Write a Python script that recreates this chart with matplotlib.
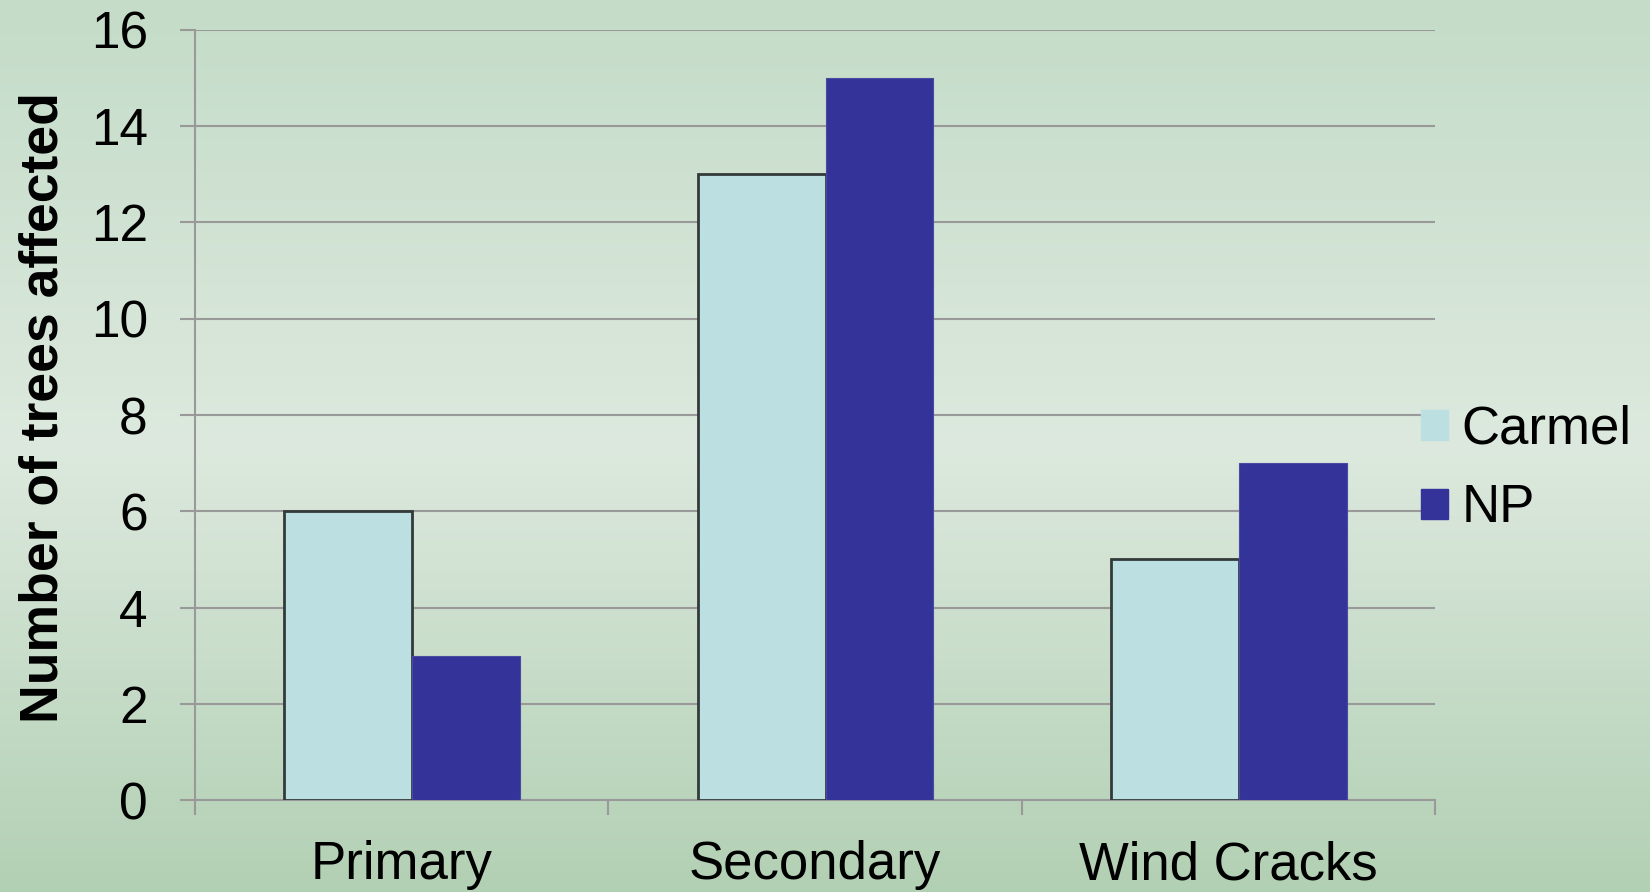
import numpy as np
import matplotlib
matplotlib.use("Agg")
import matplotlib.pyplot as plt
import matplotlib.patches as mpatches
from matplotlib.colors import LinearSegmentedColormap

plt.rcParams['font.family'] = ['Liberation Sans', 'DejaVu Sans']

categories = ['Primary', 'Secondary', 'Wind Cracks']
carmel = [6, 13, 5]
np_vals = [3, 15, 7]
y_ticks = [0, 2, 4, 6, 8, 10, 12, 14, 16]

fig = plt.figure(figsize=(16.5, 8.92), dpi=100)

# vertical background gradient
bg = fig.add_axes([0, 0, 1, 1], zorder=-1)
grad = LinearSegmentedColormap.from_list(
    'bg', ['#b2d0b4', '#dde9de', '#c4dcc8'])
bg.imshow(np.linspace(0, 1, 256).reshape(-1, 1), aspect='auto', cmap=grad,
          origin='lower', extent=[0, 1, 0, 1])
bg.axis('off')

ax = fig.add_axes([0.1182, 0.1031, 0.7515, 0.8633])
ax.patch.set_alpha(0)

x = np.arange(len(categories))
ax.bar(x - 0.284, carmel, width=0.31, align='edge', color='#bce0e2',
       edgecolor='#333a3a', linewidth=2, zorder=3)
ax.bar(x + 0.026, np_vals, width=0.26, align='edge', color='#333399',
       edgecolor='#4a4aa0', linewidth=0.8, zorder=3)

ax.set_xlim(-0.5, 2.5)
ax.set_ylim(0, 16)
ax.set_yticks(y_ticks)
ax.set_yticklabels([str(v) for v in y_ticks])
ax.set_xticks(x)
ax.set_xticklabels(categories)
ax.set_xticks([-0.5, 0.5, 1.5, 2.5], minor=True)
ax.tick_params(axis='x', which='major', length=0, pad=29, labelsize=38)
ax.tick_params(axis='x', which='minor', length=11, width=1.5, color='#999999')
ax.tick_params(axis='y', length=11, width=1.5, color='#999999', pad=23,
               labelsize=37)

ax.grid(axis='y', color='#999999', linewidth=1.5, zorder=0)
ax.set_axisbelow(True)
for s in ['top', 'right']:
    ax.spines[s].set_visible(False)
for s in ['left', 'bottom']:
    ax.spines[s].set_color('#999999')
    ax.spines[s].set_linewidth(1.5)

ax.set_ylabel('Number of trees affected', fontsize=38.5, fontweight='bold')
ax.yaxis.set_label_coords(-0.102, 0.51)

handles = [mpatches.Patch(color='#bce0e2', label='Carmel'),
           mpatches.Patch(color='#333399', label='NP')]
fig.legend(handles=handles, loc='center left', bbox_to_anchor=(0.861, 0.474),
           frameon=False, fontsize=38, handlelength=0.51, handleheight=0.51,
           handletextpad=0.26, labelspacing=0.54, borderpad=0,
           borderaxespad=0)

fig.savefig('out.png', dpi=100)
